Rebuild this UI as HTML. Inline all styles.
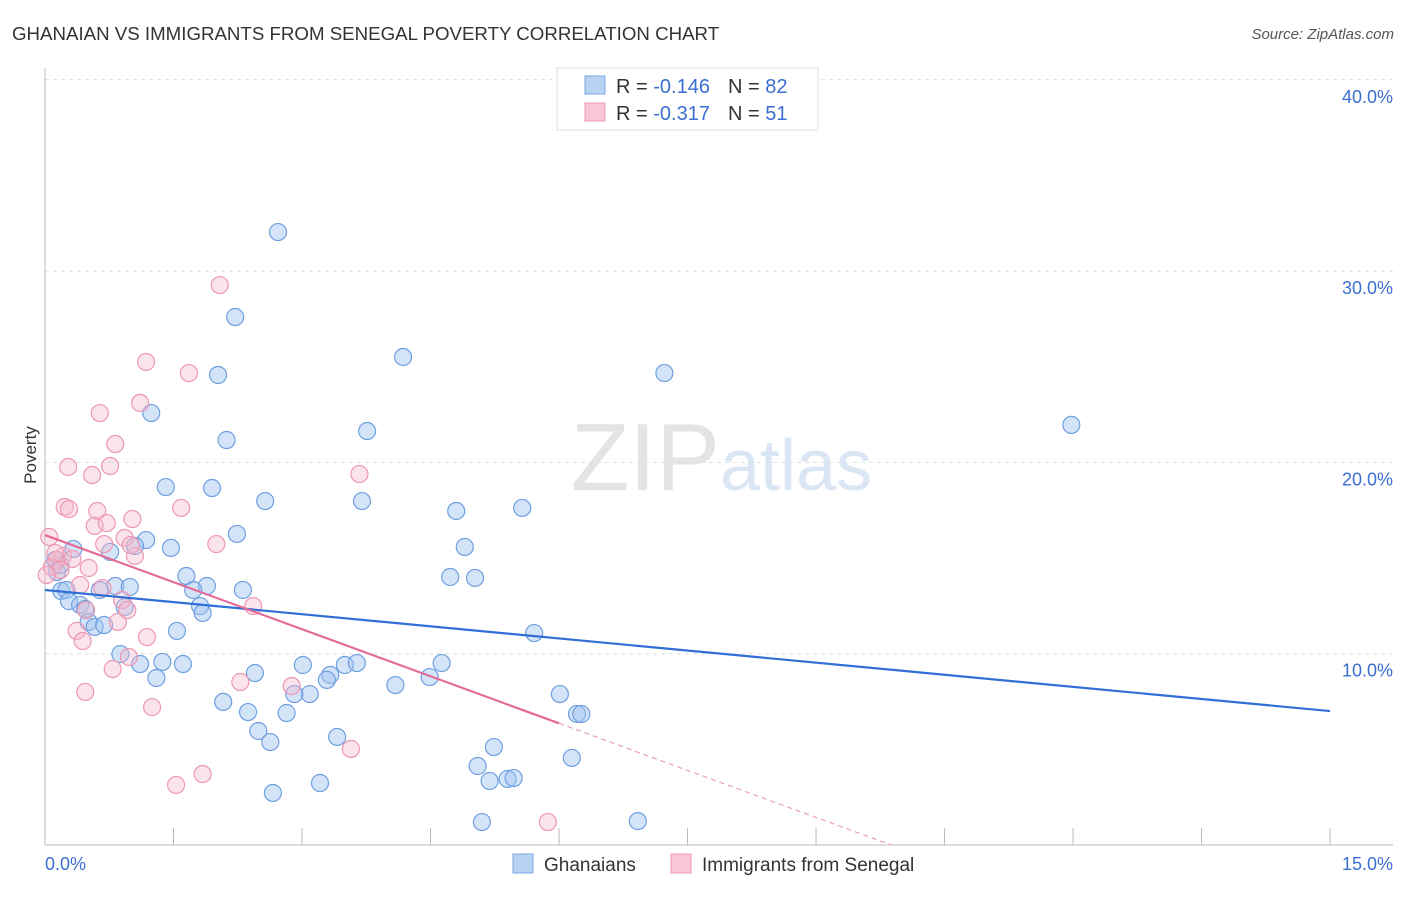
<!DOCTYPE html>
<html><head><meta charset="utf-8"><style>
body{margin:0;background:#fff;font-family:"Liberation Sans",sans-serif}
svg text{font-family:"Liberation Sans",sans-serif}
</style></head><body>
<svg width="1406" height="892">
<text x="12" y="40" font-size="18.7" fill="#333">GHANAIAN VS IMMIGRANTS FROM SENEGAL POVERTY CORRELATION CHART</text>
<text x="1394" y="39" font-size="15" fill="#555" text-anchor="end" font-style="italic">Source: ZipAtlas.com</text>
<text x="720" y="490" font-size="96" fill="#e4e4e4" text-anchor="end" font-family="Liberation Serif">ZIP</text>
<text x="720" y="490" font-size="72" fill="#dbe6f5">atlas</text>
<g id="grid"></g><g id="axes"></g><g id="pts"></g><g id="lines"></g>
<g>
<rect x="557" y="68" width="261" height="62" fill="#fff" stroke="#ddd"/>
<rect x="585" y="76" width="20" height="18" fill="#b8d2f4" stroke="#7aa7e6"/>
<rect x="585" y="103" width="20" height="18" fill="#f9c6d6" stroke="#ec9ab6"/>
<text x="616" y="93" font-size="20" fill="#333">R = <tspan fill="#3a6fd1">-0.146</tspan><tspan dx="18">N = </tspan><tspan fill="#3a6fd1">82</tspan></text>
<text x="616" y="120" font-size="20" fill="#333">R = <tspan fill="#3a6fd1">-0.317</tspan><tspan dx="18">N = </tspan><tspan fill="#3a6fd1"> 51</tspan></text>
</g>
<text x="36" y="455" font-size="17" fill="#333" transform="rotate(-90 36 455)" text-anchor="middle">Poverty</text>
<text x="45" y="870" font-size="18" fill="#3a6fd1">0.0%</text>
<text x="1393" y="870" font-size="18" fill="#3a6fd1" text-anchor="end">15.0%</text>
<g>
<rect x="513" y="854" width="20" height="19" fill="#b8d2f4" stroke="#7aa7e6"/>
<text x="544" y="871" font-size="19" fill="#333">Ghanaians</text>
<rect x="671" y="854" width="20" height="19" fill="#f9c6d6" stroke="#ec9ab6"/>
<text x="702" y="871" font-size="19" fill="#333">Immigrants from Senegal</text>
</g>
</svg>
<script>
const yTicks=[10,20,30,40];
const yTickLabels=["10.0%","20.0%","30.0%","40.0%"];
const xTicks=[0,1.5,3,4.5,6,7.5,9,10.5,12,13.5,15];
const blueX=[2.72,2.22,4.18,7.23,2.02,1.24,11.98,3.76,2.12,1.41,1.95,2.57,3.70,4.80,5.57,2.24,1.18,0.33,0.76,1.47,4.90,1.05,0.12,0.14,1.65,4.73,5.02,0.82,0.99,1.89,2.31,0.19,0.25,0.64,1.73,0.28,0.41,0.47,1.81,1.84,0.93,0.51,0.58,0.69,5.71,1.54,0.88,1.37,1.11,1.61,3.01,3.50,3.64,4.63,3.33,2.45,1.30,3.29,4.09,4.49,3.09,2.91,2.08,6.01,6.21,6.26,2.37,2.82,2.49,3.41,2.63,5.24,6.15,5.05,5.19,5.40,5.47,3.21,2.66,5.10,6.92,0.18];
const blueY=[32.04,27.6,25.51,24.67,24.57,22.58,21.96,21.64,21.17,18.71,18.66,17.98,17.98,17.46,17.62,16.26,15.94,15.47,15.32,15.53,15.58,15.63,14.90,14.27,14.06,14.01,13.96,13.54,13.49,13.54,13.33,13.28,13.33,13.33,13.33,12.75,12.55,12.34,12.49,12.13,12.44,11.66,11.40,11.50,11.08,11.19,9.98,9.57,9.46,9.46,9.41,9.41,9.51,9.51,8.89,8.99,8.73,8.63,8.36,8.78,7.89,7.89,7.48,7.89,6.85,6.85,6.95,6.90,5.96,5.65,5.38,5.12,4.55,4.13,3.35,3.45,3.50,3.24,2.72,1.20,1.25,14.64];
const pinkX=[2.04,1.18,1.68,1.11,0.64,0.82,0.27,0.76,0.55,3.67,0.23,0.28,1.59,0.61,1.02,0.58,0.72,0.05,0.93,2.00,0.69,0.21,0.14,0.32,0.08,0.51,1.05,0.41,0.67,0.90,0.96,2.43,0.48,0.85,0.37,1.19,0.44,0.98,0.79,2.28,2.88,0.47,1.25,3.57,1.84,1.53,5.87,0.12,0.18,1.0,0.02];
const pinkY=[29.27,25.25,24.67,23.11,22.58,20.96,19.76,19.81,19.34,19.39,17.67,17.56,17.62,17.46,17.04,16.68,16.83,16.10,16.05,15.73,15.73,15.11,14.90,14.95,14.53,14.48,15.11,13.59,13.43,12.81,12.28,12.49,12.28,11.66,11.19,10.87,10.66,9.83,9.20,8.52,8.31,8.00,7.21,5.02,3.71,3.14,1.20,15.26,14.38,15.68,14.11];
const blueFit=[13.33,7.0];
const pinkFit=[16.2,-1.64];
const sx=v=>45+v*85.67, sy=v=>845-v*19.13;
const NS="http://www.w3.org/2000/svg";
function mk(t,a,p){const e=document.createElementNS(NS,t);for(const k in a)e.setAttribute(k,a[k]);p.appendChild(e);return e;}
const grid=document.getElementById('grid'),axes=document.getElementById('axes'),pts=document.getElementById('pts'),lines=document.getElementById('lines');
yTicks.forEach((t,i)=>{
 const l=mk('line',{x1:45,x2:1393,y1:sy(t),y2:sy(t),stroke:'#ddd','stroke-dasharray':'4,4'},grid);
 
 
 const tx=mk('text',{x:1393,y:sy(t)+23,'font-size':18,fill:'#3a6fd1','text-anchor':'end'},grid);
 tx.textContent=yTickLabels[i];
 
 
});
const ya=mk('line',{x1:45,x2:45,y1:68,y2:845,stroke:'#bbb'},axes);


const xa=mk('line',{x1:45,x2:1393,y1:845,y2:845,stroke:'#bbb'},axes);


xTicks.forEach(t=>{
 const l=mk('line',{x1:sx(t),x2:sx(t),y1:845,y2:828,stroke:'#bbb'},axes);
 
 
});
blueX.forEach((x,i)=>{
 const c=mk('circle',{cx:sx(x),cy:sy(blueY[i]),r:8.5,fill:'rgba(160,196,240,0.45)',stroke:'#6e9fe0','stroke-width':1.2},pts);
 
 
});
pinkX.forEach((x,i)=>{
 const c=mk('circle',{cx:sx(x),cy:sy(pinkY[i]),r:8.5,fill:'rgba(246,186,206,0.4)',stroke:'#ec98b4','stroke-width':1.2},pts);
 
 
});
const bl=mk('line',{x1:sx(0),y1:sy(blueFit[0]),x2:sx(15),y2:sy(blueFit[1]),stroke:'#2f6fd6','stroke-width':2.2},lines);


const pf=x=>pinkFit[0]+pinkFit[1]*x;
const pl=mk('line',{x1:sx(0),y1:sy(pf(0)),x2:sx(6),y2:sy(pf(6)),stroke:'#e46a98','stroke-width':2.2},lines);


const xz=-pinkFit[0]/pinkFit[1];
const pd=mk('line',{x1:sx(6),y1:sy(pf(6)),x2:sx(xz),y2:sy(0),stroke:'#e9a0bb','stroke-width':1.2,'stroke-dasharray':'5,4'},lines);


</script>
</body></html>
